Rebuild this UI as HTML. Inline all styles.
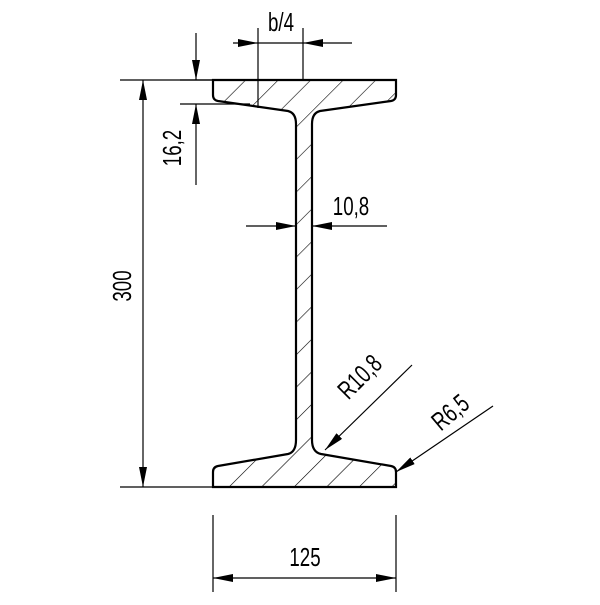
<!DOCTYPE html>
<html><head><style>body{margin:0;background:#fff}</style></head><body>
<svg width="600" height="600" viewBox="0 0 600 600" xmlns="http://www.w3.org/2000/svg" font-family="Liberation Sans, sans-serif" font-size="26">
<defs>
<pattern id="h" patternUnits="userSpaceOnUse" width="23" height="23" patternTransform="rotate(45)">
<line x1="0" y1="0" x2="0" y2="23" stroke="#000" stroke-width="1.2"/>
</pattern>
<marker id="a" viewBox="0 0 20 8" refX="20" refY="4" markerWidth="20" markerHeight="8" markerUnits="userSpaceOnUse" orient="auto-start-reverse"><path d="M0,0L20,4L0,8Z" fill="#000"/></marker>
</defs>
<path d="M213,80 L396,80 L396,95 Q396,100 391,101 L320,111 Q312,113 312,124 L312,440 Q312,452 321,454 L391,466 Q396,467 396,472 L396,487 L213,487 L213,472 Q213,467 218,466 L288,454 Q296,452 296,440 L296,124 Q296,113 288,111 L218,101 Q213,100 213,95 Z" fill="url(#h)" stroke="#000" stroke-width="2.2"/>
<g stroke="#000" stroke-width="1.2" fill="none">
<line x1="258" y1="28" x2="258" y2="108"/><line x1="303" y1="28" x2="303" y2="80"/>
<line x1="233" y1="43" x2="258" y2="43" marker-end="url(#a)"/><line x1="352" y1="43" x2="303" y2="43" marker-end="url(#a)"/>
<line x1="258" y1="43" x2="303" y2="43"/>
<line x1="196" y1="33" x2="196" y2="80" marker-end="url(#a)"/><line x1="196" y1="185" x2="196" y2="104" marker-end="url(#a)"/>
<line x1="180" y1="80" x2="213" y2="80"/><line x1="180" y1="104" x2="250" y2="104"/>
<line x1="120" y1="80" x2="213" y2="80"/><line x1="120" y1="487" x2="213" y2="487"/>
<line x1="143" y1="80" x2="143" y2="487" marker-start="url(#a)" marker-end="url(#a)"/>
<line x1="246" y1="226" x2="296" y2="226" marker-end="url(#a)"/><line x1="387" y1="226" x2="312" y2="226" marker-end="url(#a)"/>
<line x1="213" y1="515" x2="213" y2="592"/><line x1="396" y1="515" x2="396" y2="592"/>
<line x1="213" y1="578" x2="396" y2="578" marker-start="url(#a)" marker-end="url(#a)"/>
<line x1="412" y1="365" x2="325" y2="450" marker-end="url(#a)"/>
<line x1="493" y1="406" x2="396" y2="472" marker-end="url(#a)"/>
</g>
<g fill="#000">
<text transform="translate(281 31) scale(0.72 1)" text-anchor="middle">b/4</text>
<text transform="translate(181 148) rotate(-90) scale(0.72 1)" text-anchor="middle">16,2</text>
<text transform="translate(131 286) rotate(-90) scale(0.72 1)" text-anchor="middle">300</text>
<text transform="translate(351 215) scale(0.72 1)" text-anchor="middle">10,8</text>
<text transform="translate(305 566) scale(0.72 1)" text-anchor="middle">125</text>
<text transform="translate(366 383) rotate(-45) scale(0.72 1)" text-anchor="middle">R10,8</text>
<text transform="translate(456 419) rotate(-40) scale(0.72 1)" text-anchor="middle">R6,5</text>
</g>
</svg>
</body></html>
